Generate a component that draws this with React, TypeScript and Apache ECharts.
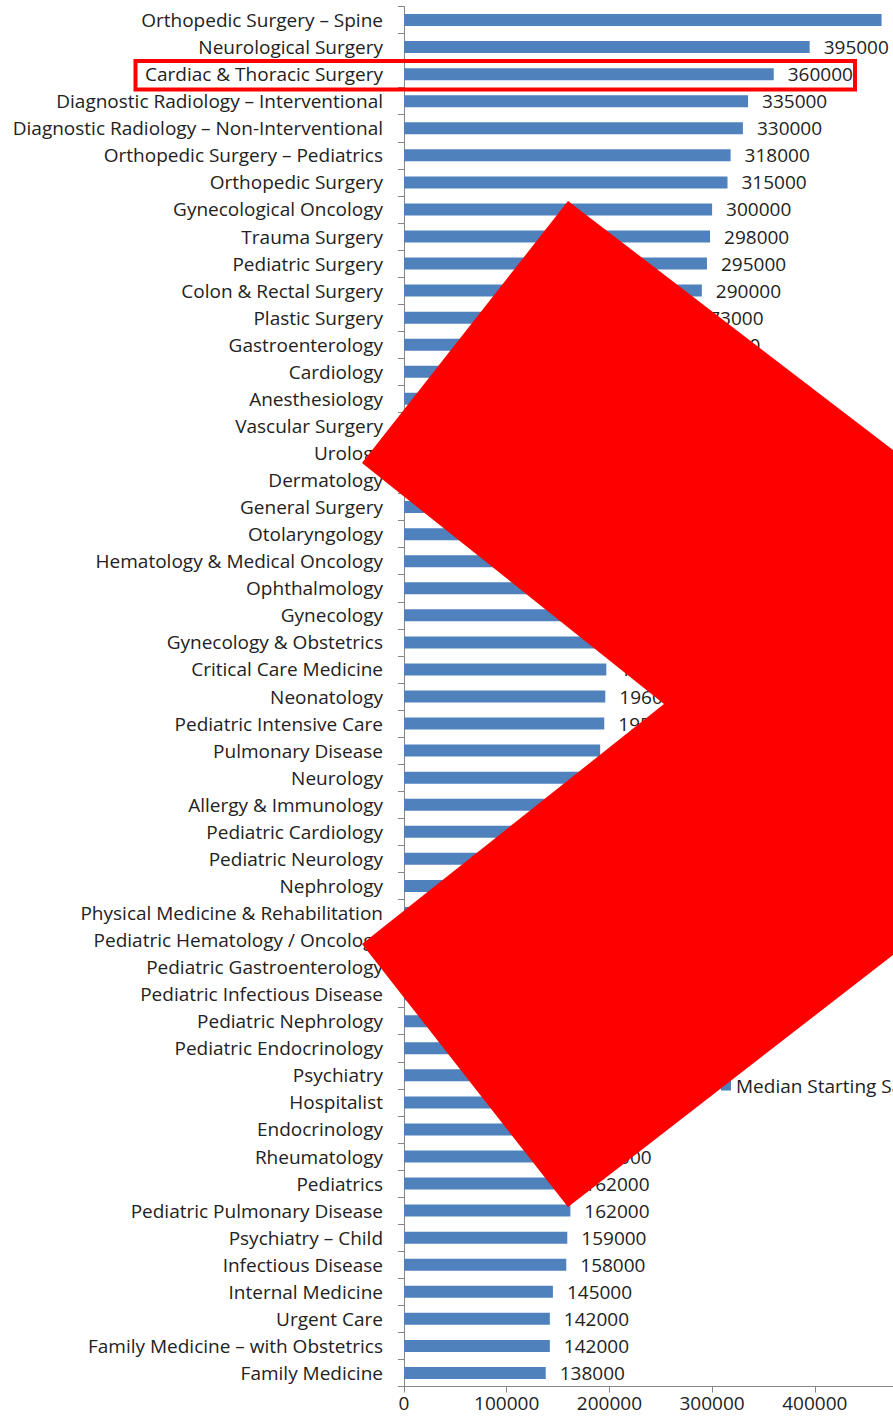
import React, { useEffect, useRef } from "react";
import * as echarts from "echarts";

const categories = [
  "Orthopedic Surgery – Spine",
  "Neurological Surgery",
  "Cardiac & Thoracic Surgery",
  "Diagnostic Radiology – Interventional",
  "Diagnostic Radiology – Non-Interventional",
  "Orthopedic Surgery – Pediatrics",
  "Orthopedic Surgery",
  "Gynecological Oncology",
  "Trauma Surgery",
  "Pediatric Surgery",
  "Colon & Rectal Surgery",
  "Plastic Surgery",
  "Gastroenterology",
  "Cardiology",
  "Anesthesiology",
  "Vascular Surgery",
  "Urology",
  "Dermatology",
  "General Surgery",
  "Otolaryngology",
  "Hematology & Medical Oncology",
  "Ophthalmology",
  "Gynecology",
  "Gynecology & Obstetrics",
  "Critical Care Medicine",
  "Neonatology",
  "Pediatric Intensive Care",
  "Pulmonary Disease",
  "Neurology",
  "Allergy & Immunology",
  "Pediatric Cardiology",
  "Pediatric Neurology",
  "Nephrology",
  "Physical Medicine & Rehabilitation",
  "Pediatric Hematology / Oncology",
  "Pediatric Gastroenterology",
  "Pediatric Infectious Disease",
  "Pediatric Nephrology",
  "Pediatric Endocrinology",
  "Psychiatry",
  "Hospitalist",
  "Endocrinology",
  "Rheumatology",
  "Pediatrics",
  "Pediatric Pulmonary Disease",
  "Psychiatry – Child",
  "Infectious Disease",
  "Internal Medicine",
  "Urgent Care",
  "Family Medicine – with Obstetrics",
  "Family Medicine",
];

const salaries = [
  465000, 395000, 360000, 335000, 330000, 318000, 315000, 300000, 298000, 295000,
  290000, 273000, 270000, 265000, 260000, 258000, 255000, 250000, 245000, 240000,
  235000, 225000, 215000, 210000, 197000, 196000, 195000, 191000, 190000, 186000,
  185000, 182000, 180000, 180000, 178000, 177000, 175000, 175000, 172000, 170000,
  170000, 168000, 164000, 162000, 162000, 159000, 158000, 145000, 142000, 142000,
  138000,
];

const seriesName = "Median Starting Salary";
const xMin = 0;
const xMax = 500000;
const xStep = 100000;
const xLabelLast = 400000;

const FONT = "'Open Sans', sans-serif";
const FS = 19;

export default function App() {
  const ref = useRef<HTMLDivElement>(null);

  useEffect(() => {
    if (!ref.current) return;
    const chart = echarts.init(ref.current, null, { renderer: "svg" });
    chart.setOption({
      animation: false,
      backgroundColor: "#ffffff",
      textStyle: { fontFamily: FONT },
      grid: {
        left: 404,
        top: 6.5,
        width: 513.5,
        height: 1380,
        containLabel: false,
        outerBoundsMode: "none",
      },
      legend: {
        data: [seriesName],
        left: 716,
        top: 1071,
        icon: "rect",
        itemWidth: 10,
        itemHeight: 10,
        itemGap: 5,
        textStyle: { fontSize: FS, color: "#222", fontFamily: FONT },
      },
      xAxis: {
        type: "value",
        min: xMin,
        max: xMax,
        interval: xStep,
        axisLine: { show: true, lineStyle: { color: "#868686", width: 1 } },
        axisTick: { show: true, length: 6, lineStyle: { color: "#868686" } },
        splitLine: { show: false },
        axisLabel: {
          fontSize: FS,
          color: "#222",
          margin: 7,
          fontFamily: FONT,
          formatter: (v: number) => (v > xLabelLast ? "" : String(v)),
        },
      },
      yAxis: {
        type: "category",
        data: categories,
        inverse: true,
        axisLine: { show: true, lineStyle: { color: "#868686", width: 1 } },
        axisTick: { show: true, length: 6, lineStyle: { color: "#868686" } },
        axisLabel: { fontSize: FS, color: "#222", margin: 21, fontFamily: FONT },
        splitLine: { show: false },
      },
      series: [
        {
          name: seriesName,
          type: "bar",
          data: salaries,
          barWidth: 12,
          itemStyle: { color: "#4F81BD" },
          label: {
            show: true,
            position: "right",
            distance: 14,
            fontSize: FS,
            color: "#222",
            fontFamily: FONT,
          },
        },
      ],
      graphic: [
        {
          type: "rect",
          z: 100,
          shape: { x: 135.5, y: 61, width: 719.5, height: 28.5 },
          style: { fill: "none", stroke: "#ff0000", lineWidth: 4 },
        },
        {
          type: "polygon",
          z: 101,
          shape: {
            points: [
              [568, 201],
              [1000, 532],
              [1000, 872],
              [568, 1207],
              [362, 944],
              [664, 704],
              [362, 463],
            ],
          },
          style: { fill: "#ff0000" },
        },
      ],
    });
    return () => chart.dispose();
  }, []);

  return (
    <div
      ref={ref}
      style={{ position: "absolute", left: 0, top: 0, width: 893, height: 1418 }}
    />
  );
}
